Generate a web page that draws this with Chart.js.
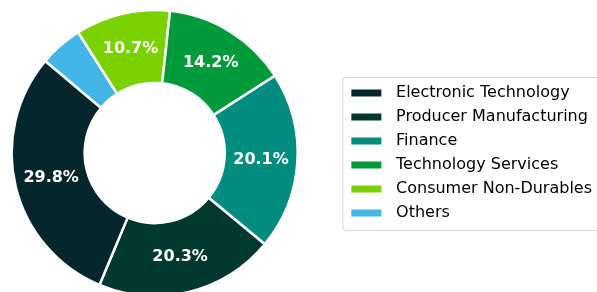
<!DOCTYPE html>
<html lang="en">
<head>
    <meta charset="UTF-8">
    <title>Sector Breakdown</title>
    <script src="https://cdn.jsdelivr.net/npm/chart.js"></script>
    <style>
        * { margin: 0; padding: 0; box-sizing: border-box; }
        html, body { width: 597px; height: 292px; overflow: hidden; background: #fff; }
        #wrap { position: absolute; left: -34px; top: 0; width: 646px; height: 306px; }
    </style>
</head>
<body>
    <div id="wrap"><canvas id="sectorChart"></canvas></div>

    <script>
        // legend order (matplotlib draws these counter-clockwise)
        const sectors = ['Electronic Technology', 'Producer Manufacturing', 'Finance',
                         'Technology Services', 'Consumer Non-Durables', 'Others'];
        const shares = [29.8, 20.3, 20.1, 14.2, 10.7, 4.9];
        const colors = ['#05262c', '#00382f', '#008c7e', '#009a3a', '#79d200', '#43b5e6'];

        // chart.js goes clockwise, so feed it reversed and flip the legend back
        const labelsRev = sectors.slice().reverse();
        const sharesRev = shares.slice().reverse();
        const colorsRev = colors.slice().reverse();

        const pctLabels = {
            id: 'pctLabels',
            afterDatasetsDraw(chart) {
                const ctx = chart.ctx;
                const meta = chart.getDatasetMeta(0);
                ctx.save();
                ctx.font = 'bold 16px "DejaVu Sans"';
                ctx.fillStyle = '#ffffff';
                ctx.textAlign = 'center';
                ctx.textBaseline = 'middle';
                meta.data.forEach((arc, i) => {
                    const v = sharesRev[i];
                    if (v < 5) return;
                    const p = arc.tooltipPosition();
                    ctx.fillText(v.toFixed(1) + '%', p.x, p.y);
                });
                ctx.restore();
            }
        };

        const legendFrame = {
            id: 'legendFrame',
            afterDraw(chart) {
                const boxes = chart.legend.legendHitBoxes;
                if (!boxes || !boxes.length) return;
                const ctx = chart.ctx;
                const left = boxes[0].left - 9;
                const top = boxes[0].top - 8;
                const bottom = boxes[boxes.length - 1].top + boxes[boxes.length - 1].height + 9;
                const right = chart.width - 2;
                ctx.save();
                ctx.strokeStyle = '#d6d6d6';
                ctx.lineWidth = 1;
                ctx.beginPath();
                ctx.roundRect(left + 0.5, top + 0.5, right - left, bottom - top, 3);
                ctx.stroke();
                ctx.restore();
            }
        };

        const ctx = document.getElementById('sectorChart').getContext('2d');
        new Chart(ctx, {
            type: 'doughnut',
            data: {
                labels: labelsRev,
                datasets: [{
                    data: sharesRev,
                    backgroundColor: colorsRev,
                    borderColor: '#ffffff',
                    borderWidth: 2.5,
                    hoverOffset: 0
                }]
            },
            options: {
                responsive: true,
                maintainAspectRatio: false,
                animation: false,
                radius: 143,
                cutout: '49%',
                rotation: -50,
                layout: { padding: { right: 10 } },
                plugins: {
                    tooltip: { enabled: false },
                    legend: {
                        position: 'right',
                        reverse: true,
                        labels: {
                            font: { family: 'DejaVu Sans', size: 16 },
                            color: '#222',
                            boxWidth: 30,
                            boxHeight: 7,
                            padding: 8,
                            generateLabels(chart) {
                                const ds = chart.data.datasets[0];
                                return chart.data.labels.map((l, i) => ({
                                    text: ' \u200A' + l,
                                    fillStyle: ds.backgroundColor[i],
                                    strokeStyle: ds.backgroundColor[i],
                                    lineWidth: 0,
                                    hidden: false,
                                    index: i
                                }));
                            }
                        }
                    }
                }
            },
            plugins: [pctLabels, legendFrame]
        });
    </script>
</body>
</html>
